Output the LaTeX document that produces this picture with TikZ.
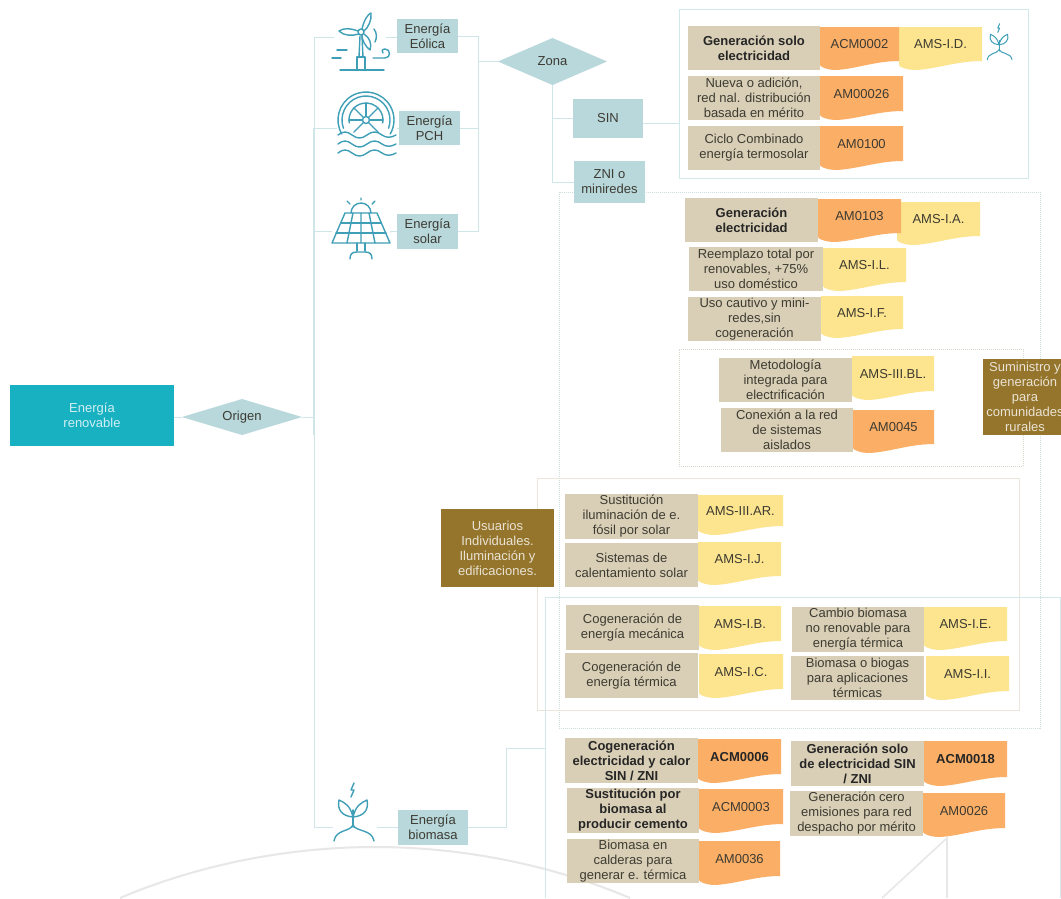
\documentclass[tikz,border=0pt]{standalone}
\usepackage{fontspec}
\setmainfont{Liberation Sans}
\usetikzlibrary{shapes.geometric}
\definecolor{tealmain}{HTML}{17B1C2}
\definecolor{teallight}{HTML}{B8D8DC}
\definecolor{connc}{HTML}{CFE6E9}
\definecolor{frameteal}{HTML}{D3E8EA}
\definecolor{framebeige}{HTML}{EAE6D9}
\definecolor{beige}{HTML}{D9CFB6}
\definecolor{orangetag}{HTML}{FBAE66}
\definecolor{yellowtag}{HTML}{FDE48E}
\definecolor{brownbox}{HTML}{94752B}
\definecolor{inkc}{HTML}{3D3B32}
\definecolor{iconc}{HTML}{3F9FB7}
\definecolor{softgray}{HTML}{E7E7E7}
\newcommand{\bx}[7][]{%
  \pgfmathsetmacro{\qcx}{(#3+#5)/2}\pgfmathsetmacro{\qcy}{(#4+#6)/2}%
  \pgfmathsetmacro{\qw}{#5-#3}\pgfmathsetmacro{\qh}{#6-#4}%
  \node[#1,minimum width=\qw pt,minimum height=\qh pt] (#2) at (\qcx,\qcy) {#7};}
\newcommand{\tagbox}[8][]{%
  \pgfmathsetmacro{\qw}{#5-#3}\pgfmathsetmacro{\qh}{#6-#4}%
  \pgfmathsetmacro{\qcx}{(#3+#5)/2}\pgfmathsetmacro{\qty}{#4+0.4*\qh}%
  \pgfmathsetmacro{\qax}{#5-0.3*\qw}\pgfmathsetmacro{\qay}{#6-9}%
  \pgfmathsetmacro{\qbx}{#3+0.45*\qw}\pgfmathsetmacro{\qby}{#6-1}%
  \pgfmathsetmacro{\qdx}{#3+0.2*\qw}\pgfmathsetmacro{\qex}{#3+0.1*\qw}%
  \pgfmathsetmacro{\qfy}{#6-5}%
  \fill[#7] (#3,#4) -- (#5,#4) -- (#5,\qay) .. controls (\qax,\qay) and (\qbx,\qby) .. (\qdx,#6) .. controls (\qex,#6) and (#3,#6-3) .. (#3,\qfy) -- cycle;
  \node[tagtext,#1] (#2) at (\qcx,\qty) {#8};}
\newcommand{\plantshape}{%
  \draw[iconline] (0,0) -- (0,-17);
  \draw[iconline] (0,-2) .. controls (-3,5) and (-17,2) .. (-19,14);
  \draw[iconline] (0,-2) .. controls (3,5) and (19,2) .. (21,14);
  \draw[iconline] (0,-10) .. controls (-3,-22) and (-8,-24) .. (-14,-27) .. controls (-16,-17) and (-11,-11) .. (0,-10);
  \draw[iconline] (0,-10) .. controls (3,-22) and (8,-24) .. (14,-27) .. controls (16,-17) and (11,-11) .. (0,-10);
  \draw[iconline] (-2,-30) -- (1,-37) -- (-2,-37) -- (1,-44);
}
\tikzset{
  x=1pt,y=-1pt,
  conn/.style={draw=connc,line width=1pt},
  connthick/.style={draw=connc,line width=1.5pt},
  iconline/.style={draw=iconc,line width=1.4pt,line cap=round,line join=round},
  iconarea/.style={inner sep=0pt,outer sep=0pt},
  every node/.style={font=\fontsize{13}{15}\selectfont,text=inkc,align=center,inner sep=0pt,outer sep=0pt},
  descbox/.style={fill=beige},
  tealbox/.style={fill=teallight},
  brownnote/.style={fill=brownbox,text=white!80!brownbox},
  zonediamond/.style={diamond,fill=teallight,aspect=2.4},
  framesolid/.style={draw=frameteal,line width=1pt},
  framebeig/.style={draw=framebeige,line width=1pt},
  framedot/.style={draw=frameteal!90!gray,line width=1pt,densely dotted},
  framedotb/.style={draw=framebeige!85!gray,line width=1pt,densely dotted},
  tagtext/.style={},
  boldt/.style={font=\fontsize{13}{15}\selectfont\bfseries,text=black!85},
}
\begin{document}
\begin{tikzpicture}
\useasboundingbox (0,0) rectangle (1061,898);
\fill[white] (0,0) rectangle (1061,898);
% soft background curves
\draw[softgray,line width=2pt] (120,898) .. controls (200,864) and (290,847) .. (375,847) .. controls (460,847) and (550,864) .. (630,898);
\coordinate (kneeA) at (947,838);
\coordinate (kneeB) at (882,898);
\coordinate (kneeC) at (947,898);
\draw[softgray,line width=1.6pt] (kneeB) -- (kneeA) -- (kneeC);
% frames
\bx[framedot]{fzni}{559}{192}{1040}{728}{}
\bx[framesolid]{fsin}{679}{9}{1028}{178}{}
\bx[framedotb]{frural}{679}{349}{1023}{466}{}
\bx[framebeig]{fusers}{537}{478}{1019}{710}{}
\coordinate (fbA) at (545,898);
\coordinate (fbB) at (545,597);
\coordinate (fbC) at (1060,597);
\coordinate (fbD) at (1060,898);
\draw[framesolid] (fbA) -- (fbB) -- (fbC) -- (fbD);
% root
\bx[fill=tealmain,text=white!80!tealmain]{root}{10}{385}{174}{446}{Energía\\renovable}
\node[zonediamond,aspect=3.3,minimum width=120pt,minimum height=36pt] (origen) at (242,417) {Origen};
% energy boxes
\bx[tealbox]{eolica}{397}{19}{458}{53}{Energía\\Eólica}
\bx[tealbox]{pch}{399}{111}{460}{145}{Energía\\PCH}
\bx[tealbox]{solar}{397}{214}{458}{249}{Energía\\solar}
\bx[tealbox]{biomasa}{398}{810}{468}{845}{Energía\\biomasa}
\node[zonediamond,minimum width=109pt,minimum height=47pt] (zona) at (552.5,61.5) {Zona};
\bx[tealbox]{sin}{573}{99}{643}{138}{SIN}
\bx[tealbox]{zni}{574}{161}{645}{203}{ZNI o\\miniredes}
% icon areas
\node[iconarea,minimum width=52pt,minimum height=60pt] (iconE) at (360,41) {};
\node[iconarea,minimum width=60pt,minimum height=62pt] (iconP) at (367,125) {};
\node[iconarea,minimum width=58pt,minimum height=62pt] (iconS) at (361,229) {};
\node[iconarea,minimum width=44pt,minimum height=60pt] (iconB) at (355,813) {};
\node[iconarea,minimum width=27pt,minimum height=36pt] (iconZ) at (998.5,44) {};
% connectors
\coordinate (vA) at (314,37);
\coordinate (vB) at (314,128);
\coordinate (vC) at (314,231);
\coordinate (vD) at (314,417);
\coordinate (vE) at (314,435);
\coordinate (vF) at (314,827);
\draw[conn] (root.east |- origen) -- (origen.west);
\draw[conn] (origen.east) -- (vD);
\draw[conn] (vB) -- (vA) -- (iconE.west |- vA);
\draw[connthick] (vB) -- (vE);
\draw[conn] (vE) -- (vF) -- (iconB.west |- vF);
\draw[conn] (vB) -- (iconP.west |- vB);
\draw[conn] (vC) -- (iconS.west |- vC);
\draw[conn] (iconE.east |- vA) -- (eolica.west |- vA);
\draw[conn] (iconP.east |- vB) -- (pch.west |- vB);
\draw[conn] (iconS.east |- vC) -- (solar.west |- vC);
\draw[conn] (iconB.east |- vF) -- (biomasa.west |- vF);
\coordinate (busA) at (478,36);
\draw[conn] (eolica.east) -- (busA);
\draw[conn] (pch.east) -| (busA);
\draw[conn] (solar.east) -| (busA);
\draw[conn] (zona.west) -- (zona.west -| busA);
\draw[conn] (zona.south) |- (sin.west);
\draw[conn] (zona.south) |- (zni.west);
\coordinate (sinOut) at (679,123);
\draw[conn] (sin.east |- sinOut) -- (sinOut);
\coordinate (bioKnee) at (506,748);
\coordinate (bioEnd) at (545,748);
\draw[conn] (biomasa.east) -| (bioKnee) -- (bioEnd);
% wind turbine icon
\draw[iconline] (357,69) -- (357,57) -- (365,57) -- (365,69);
\draw[iconline] (340,70) -- (384,70);
\draw[iconline] (359,57) -- (360,36) (363,57) -- (362,36);
\draw[iconline] (361,32) circle [radius=3];
\draw[iconline] (362,29) .. controls (364,20) and (368,14) .. (371,13) .. controls (372,20) and (368,28) .. (364,31);
\draw[iconline] (358,31) .. controls (350,28) and (343,28) .. (339,31) .. controls (344,36) and (352,36) .. (359,34);
\draw[iconline] (364,34) .. controls (370,38) and (372,44) .. (370,50) .. controls (365,46) and (362,40) .. (362,35);
\draw[iconline] (374,29) .. controls (377,33) and (377,38) .. (375,42);
\draw[iconline] (373,58) -- (385,58) .. controls (391,58) and (391,49) .. (385,49) .. controls (382,49) and (381,52) .. (383,53);
\draw[iconline] (337,50) -- (347,50) (332,58) -- (341,58);
% water wheel icon
\coordinate (wc) at (366,120);
\draw[iconline] ([shift={(150:28)}]wc) arc [start angle=150,end angle=390,radius=28];
\draw[iconline] ([shift={(160:24)}]wc) arc [start angle=160,end angle=380,radius=24];
\draw[iconline] ([shift={(170:17)}]wc) arc [start angle=170,end angle=370,radius=17];
\draw[iconline] (wc) circle [radius=3.5];
\foreach \ang in {-90,-45,0,45,135,180,225}{
  \draw[iconline] ([shift={(\ang:3.5)}]wc) -- ([shift={(\ang:17)}]wc);
}
\foreach \yy in {135,144,153}{
  \draw[iconline] (338,\yy) .. controls (343,\yy-4) and (347,\yy-4) .. (352,\yy) .. controls (357,\yy+4) and (362,\yy+4) .. (367,\yy) .. controls (372,\yy-4) and (377,\yy-4) .. (382,\yy) .. controls (386,\yy+3) and (391,\yy+3) .. (396,\yy);
}
% solar icon
\draw[iconline] (345,213) -- (377,213) -- (390,243) -- (332,243) -- cycle;
\draw[iconline] (341,223) -- (381,223) (336,233) -- (386,233);
\draw[iconline] (353,213) -- (347,243) (361,213) -- (361,243) (369,213) -- (375,243);
\draw[iconline] (351,213) arc [start angle=180,end angle=360,radius=10];
\draw[iconline] (361,198) -- (361,200) (347,201) -- (350,204) (375,201) -- (372,204);
\draw[iconline] (357,243) -- (357,251) (365,243) -- (365,251);
\draw[iconline] (350,259) .. controls (350,254) and (352,252) .. (357,252) -- (365,252) .. controls (370,252) and (372,254) .. (372,259);
% plant icons
\begin{scope}[shift={(353,827)}]
\plantshape
\end{scope}
\begin{scope}[shift={(999,51)},scale=0.62,iconline/.append style={line width=1pt}]
\plantshape
\end{scope}
% SIN rows
\bx[descbox,boldt]{a1}{688}{26}{820}{70}{Generación solo\\electricidad}
\tagbox{a3}{899}{27}{982}{70}{yellowtag}{AMS-I.D.}
\tagbox{a2}{820}{27}{899}{70}{orangetag}{ACM0002}
\bx[descbox]{b1}{688}{76}{820}{120}{Nueva o adición,\\red nal. distribución\\basada en mérito}
\tagbox{b2}{820}{76}{903}{120}{orangetag}{AM00026}
\bx[descbox]{c1}{688}{126}{820}{170}{Ciclo Combinado\\energía termosolar}
\tagbox{c2}{820}{126}{903}{170}{orangetag}{AM0100}
% ZNI rows
\bx[descbox,boldt]{d1}{685}{198}{818}{242}{Generación\\electricidad}
\tagbox{d3}{897}{202}{980}{245}{yellowtag}{AMS-I.A.}
\tagbox{d2}{818}{199}{901}{242}{orangetag}{AM0103}
\bx[descbox]{e1}{689}{247}{823}{291}{Reemplazo total por\\renovables, +75\%\\uso doméstico}
\tagbox{e2}{823}{248}{906}{291}{yellowtag}{AMS-I.L.}
\bx[descbox]{f1}{688}{297}{821}{341}{Uso cautivo y mini-\\redes,sin\\cogeneración}
\tagbox{f2}{821}{296}{903}{338}{yellowtag}{AMS-I.F.}
\bx[descbox]{g1}{719}{358}{852}{402}{Metodología\\integrada para\\electrificación}
\tagbox{g2}{852}{356}{934}{400}{yellowtag}{AMS-III.BL.}
\bx[descbox]{h1}{721}{408}{853}{452}{Conexión a la red\\de sistemas\\aislados}
\tagbox{h2}{853}{410}{934}{453}{orangetag}{AM0045}
\begin{scope}
\clip (0,0) rectangle (1061,898);
\bx[brownnote]{rural}{983}{359}{1067}{435}{Suministro y\\generación\\para\\comunidades\\rurales}
\end{scope}
% users
\bx[brownnote]{users}{441}{509}{554}{587}{Usuarios\\Individuales.\\Iluminación y\\edificaciones.}
\bx[descbox]{i1}{565}{494}{698}{539}{Sustitución\\iluminación de e.\\fósil por solar}
\tagbox{i2}{698}{495}{783}{535}{yellowtag}{AMS-III.AR.}
\bx[descbox]{j1}{565}{543}{698}{587}{Sistemas de\\calentamiento solar}
\tagbox{j2}{698}{542}{781}{585}{yellowtag}{AMS-I.J.}
\bx[descbox]{k1}{566}{605}{699}{650}{Cogeneración de\\energía mecánica}
\tagbox{k2}{699}{606}{781}{650}{yellowtag}{AMS-I.B.}
\bx[descbox]{l1}{565}{653}{698}{698}{Cogeneración de\\energía térmica}
\tagbox{l2}{699}{654}{783}{698}{yellowtag}{AMS-I.C.}
\bx[descbox]{m1}{792}{607}{924}{652}{Cambio  biomasa\\no renovable para\\energía térmica}
\tagbox{m2}{924}{607}{1007}{650}{yellowtag}{AMS-I.E.}
\bx[descbox]{n1}{791}{656}{924}{700}{Biomasa o biogas\\para aplicaciones\\térmicas}
\tagbox{n2}{926}{656}{1009}{700}{yellowtag}{AMS-I.I.}
% biomass
\bx[descbox,boldt]{o1}{565}{738}{698}{783}{Cogeneración\\electricidad y calor\\SIN / ZNI}
\tagbox[boldt]{o2}{698}{739}{781}{783}{orangetag}{ACM0006}
\bx[descbox,boldt]{p1}{791}{741}{924}{786}{Generación solo\\de electricidad SIN\\/ ZNI}
\tagbox[boldt]{p2}{924}{741}{1007}{786}{orangetag}{ACM0018}
\bx[descbox,boldt]{q1}{567}{788}{699}{833}{Sustitución por\\biomasa al\\producir cemento}
\tagbox{q2}{699}{789}{783}{833}{orangetag}{ACM0003}
\bx[descbox]{r1}{790}{791}{923}{836}{Generación cero\\emisiones para red\\despacho por mérito}
\tagbox{r2}{923}{793}{1005}{837}{orangetag}{AM0026}
\bx[descbox]{s1}{567}{839}{699}{883}{Biomasa en\\calderas para\\generar e. térmica}
\tagbox{s2}{699}{841}{780}{885}{orangetag}{AM0036}
\end{tikzpicture}
\end{document}
